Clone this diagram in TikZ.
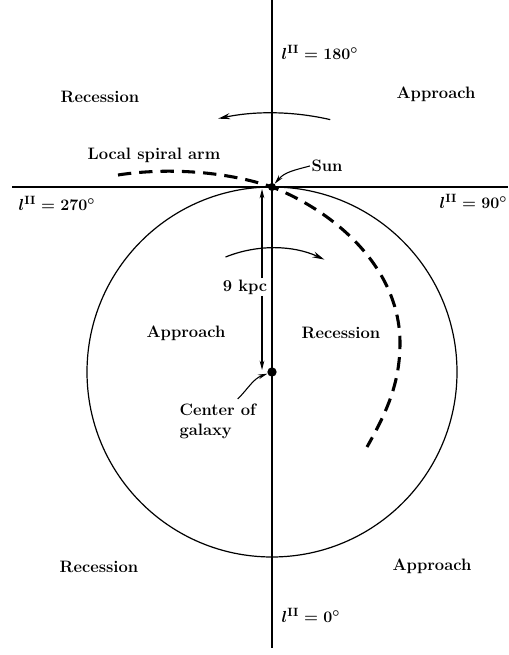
\documentclass[tikz,border=0pt]{standalone}
\usepackage{amsmath,amssymb}
\usetikzlibrary{arrows.meta,positioning,calc}

\begin{document}
\begin{tikzpicture}[x=0.75pt, y=0.75pt,
  region/.style={font=\fontsize{12.4}{15}\selectfont\bfseries, inner sep=1pt},
  lonlbl/.style={font=\fontsize{12.4}{15}\selectfont\boldmath, anchor=west, inner sep=1pt},
  axisline/.style={line width=1pt},
  rotarrow/.style={line width=0.9pt, -{Stealth[length=9pt, width=4.5pt]}},
  pointer/.style={line width=0.8pt, -{Stealth[length=7pt, width=3.5pt]}},
  armline/.style={line width=2.3pt, dash pattern=on 10pt off 6pt},
  dot/.style={circle, fill, inner sep=0pt, minimum size=#1}]
\useasboundingbox (0,0) rectangle (508,655);
\coordinate (sun) at (272,468);
\coordinate (gc) at (272,283);
\coordinate (axtop) at (272,655);
\coordinate (axbot) at (272,7);
\coordinate (axleft) at (12,468);
\coordinate (axright) at (508,468);

% galaxy and local arm
\draw[line width=0.9pt] (gc) circle[radius=185];
\draw[armline] (118,480) .. controls (170,488) and (228,483) .. (sun)
  .. controls (338,442) and (400,385) .. (400,312)
  .. controls (400,270) and (385,240) .. (367,208);

% 9 kpc distance
\node[region] (kpc) at (245,368) {9 kpc};
\coordinate (kpctop) at (262,466);
\coordinate (kpcbot) at (262,285);
\draw[pointer] (kpc.north -| kpctop) -- (kpctop);
\draw[pointer] (kpc.south -| kpcbot) -- (kpcbot);

% axes
\draw[axisline] (axtop) -- (axbot);
\draw[axisline] (axleft) -- (axright);

\node[dot=6pt] (sundot) at (sun) {};
\node[dot=7pt] (gcdot) at (gc) {};

% rotation
\draw[rotarrow] ($(gc)+(77:259)$) arc[start angle=77, end angle=102, radius=259];
\draw[rotarrow] ($(gc)+(112:124)$) arc[start angle=112, end angle=65, radius=124];

% labels
\node[region] (sunlbl) at (327,489) {Sun};
\draw[pointer] (sunlbl.west) to[out=195, in=50] (sundot);
\node[region, align=left, anchor=north west] (gclbl) at (178,253) {Center of\\galaxy};
\draw[pointer] ($(gclbl.north)+(20,3)$) to[out=45, in=200] (gcdot);
\node[region] (armlbl) at (154,500) {Local spiral arm};

\node[lonlbl] (l180) at (280,603) {$l^{\mathrm{II}} = 180^\circ$};
\node[lonlbl] (l270) at (17,452) {$l^{\mathrm{II}} = 270^\circ$};
\node[lonlbl] (l90) at (438,454) {$l^{\mathrm{II}} = 90^\circ$};
\node[lonlbl] (l0) at (280,40) {$l^{\mathrm{II}} = 0^\circ$};

\node[region] (recTL) at (100,558) {Recession};
\node[region] (appTR) at (436,561) {Approach};
\node[region] (appIn) at (186,322) {Approach};
\node[region] (recIn) at (341,322) {Recession};
\node[region] (recBL) at (99,88) {Recession};
\node[region] (appBR) at (432,89) {Approach};
\end{tikzpicture}
\end{document}
